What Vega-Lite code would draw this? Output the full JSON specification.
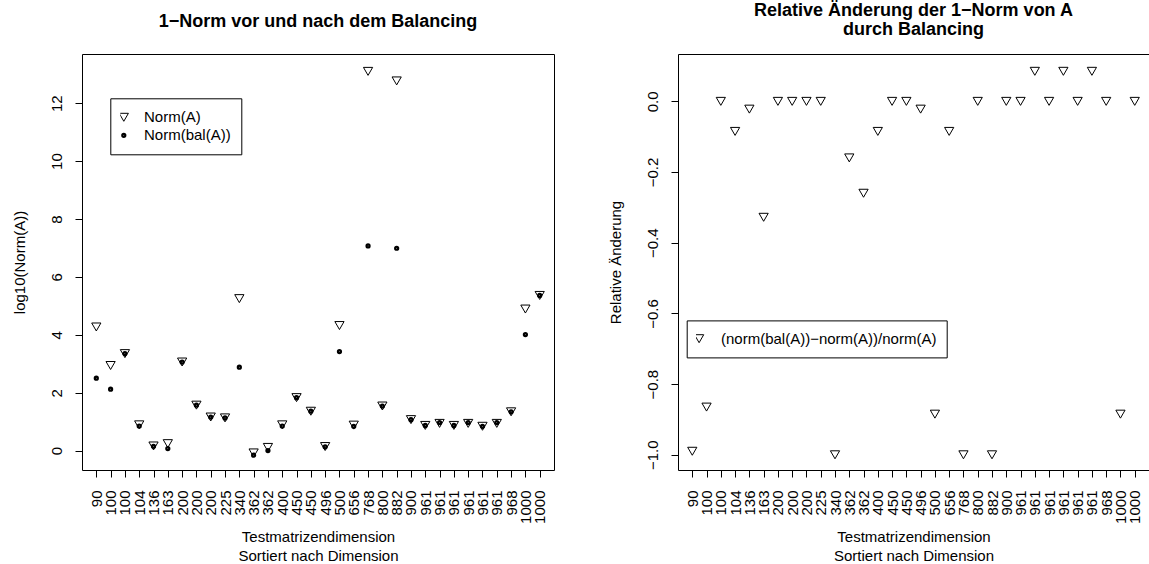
{
  "$schema": "https://vega.github.io/schema/vega-lite/v6.json",
  "background": "white",
  "padding": {"left": 11, "top": 2, "right": 0, "bottom": 0},
  "bounds": "flush",
  "spacing": 124,
  "resolve": {
    "scale": {"shape": "independent", "size": "independent", "strokeWidth": "independent"},
    "legend": {"shape": "independent", "size": "independent", "strokeWidth": "independent"}
  },
  "config": {
    "font": "Liberation Sans",
    "view": {"stroke": "black", "strokeWidth": 1},
    "axis": {
      "grid": false, "domain": false, "domainColor": "black", "domainWidth": 1,
      "tickColor": "black", "tickSize": 7, "tickWidth": 1,
      "labelColor": "black", "labelFontSize": 15, "labelFont": "Liberation Sans",
      "titleFont": "Liberation Sans", "titleFontSize": 15, "titleFontWeight": "normal", "titleColor": "black"
    }
  },
  "datasets": {
    "norms": [
      {"key": "01_90", "series": "Norm(A)", "v": 4.27},
      {"key": "02_100", "series": "Norm(A)", "v": 2.94},
      {"key": "03_100", "series": "Norm(A)", "v": 3.35},
      {"key": "04_104", "series": "Norm(A)", "v": 0.89},
      {"key": "05_136", "series": "Norm(A)", "v": 0.16},
      {"key": "06_163", "series": "Norm(A)", "v": 0.24},
      {"key": "07_200", "series": "Norm(A)", "v": 3.06},
      {"key": "08_200", "series": "Norm(A)", "v": 1.57},
      {"key": "09_200", "series": "Norm(A)", "v": 1.16},
      {"key": "10_225", "series": "Norm(A)", "v": 1.13},
      {"key": "11_340", "series": "Norm(A)", "v": 5.25},
      {"key": "12_362", "series": "Norm(A)", "v": -0.08},
      {"key": "13_362", "series": "Norm(A)", "v": 0.11},
      {"key": "14_400", "series": "Norm(A)", "v": 0.89},
      {"key": "15_450", "series": "Norm(A)", "v": 1.83},
      {"key": "16_450", "series": "Norm(A)", "v": 1.36},
      {"key": "17_496", "series": "Norm(A)", "v": 0.14},
      {"key": "18_500", "series": "Norm(A)", "v": 4.32},
      {"key": "19_656", "series": "Norm(A)", "v": 0.88},
      {"key": "20_768", "series": "Norm(A)", "v": 13.1},
      {"key": "21_800", "series": "Norm(A)", "v": 1.54},
      {"key": "22_882", "series": "Norm(A)", "v": 12.77},
      {"key": "23_900", "series": "Norm(A)", "v": 1.07},
      {"key": "24_961", "series": "Norm(A)", "v": 0.87},
      {"key": "25_961", "series": "Norm(A)", "v": 0.94},
      {"key": "26_961", "series": "Norm(A)", "v": 0.87},
      {"key": "27_961", "series": "Norm(A)", "v": 0.94},
      {"key": "28_961", "series": "Norm(A)", "v": 0.84},
      {"key": "29_961", "series": "Norm(A)", "v": 0.94},
      {"key": "30_968", "series": "Norm(A)", "v": 1.34},
      {"key": "31_1000", "series": "Norm(A)", "v": 4.89},
      {"key": "32_1000", "series": "Norm(A)", "v": 5.36},
      {"key": "01_90", "series": "Norm(bal(A))", "v": 2.5},
      {"key": "02_100", "series": "Norm(bal(A))", "v": 2.12},
      {"key": "03_100", "series": "Norm(bal(A))", "v": 3.35},
      {"key": "04_104", "series": "Norm(bal(A))", "v": 0.85},
      {"key": "05_136", "series": "Norm(bal(A))", "v": 0.15},
      {"key": "06_163", "series": "Norm(bal(A))", "v": 0.07},
      {"key": "07_200", "series": "Norm(bal(A))", "v": 3.06},
      {"key": "08_200", "series": "Norm(bal(A))", "v": 1.57},
      {"key": "09_200", "series": "Norm(bal(A))", "v": 1.16},
      {"key": "10_225", "series": "Norm(bal(A))", "v": 1.13},
      {"key": "11_340", "series": "Norm(bal(A))", "v": 2.88},
      {"key": "12_362", "series": "Norm(bal(A))", "v": -0.16},
      {"key": "13_362", "series": "Norm(bal(A))", "v": 0.0},
      {"key": "14_400", "series": "Norm(bal(A))", "v": 0.85},
      {"key": "15_450", "series": "Norm(bal(A))", "v": 1.83},
      {"key": "16_450", "series": "Norm(bal(A))", "v": 1.36},
      {"key": "17_496", "series": "Norm(bal(A))", "v": 0.13},
      {"key": "18_500", "series": "Norm(bal(A))", "v": 3.42},
      {"key": "19_656", "series": "Norm(bal(A))", "v": 0.84},
      {"key": "20_768", "series": "Norm(bal(A))", "v": 7.07},
      {"key": "21_800", "series": "Norm(bal(A))", "v": 1.54},
      {"key": "22_882", "series": "Norm(bal(A))", "v": 6.99},
      {"key": "23_900", "series": "Norm(bal(A))", "v": 1.07},
      {"key": "24_961", "series": "Norm(bal(A))", "v": 0.87},
      {"key": "25_961", "series": "Norm(bal(A))", "v": 0.97},
      {"key": "26_961", "series": "Norm(bal(A))", "v": 0.87},
      {"key": "27_961", "series": "Norm(bal(A))", "v": 0.97},
      {"key": "28_961", "series": "Norm(bal(A))", "v": 0.84},
      {"key": "29_961", "series": "Norm(bal(A))", "v": 0.97},
      {"key": "30_968", "series": "Norm(bal(A))", "v": 1.34},
      {"key": "31_1000", "series": "Norm(bal(A))", "v": 4.01},
      {"key": "32_1000", "series": "Norm(bal(A))", "v": 5.36}
    ],
    "rel": [
      {"key": "01_90", "series": "(norm(bal(A))−norm(A))/norm(A)", "r": -0.99},
      {"key": "02_100", "series": "(norm(bal(A))−norm(A))/norm(A)", "r": -0.865},
      {"key": "03_100", "series": "(norm(bal(A))−norm(A))/norm(A)", "r": 0.0},
      {"key": "04_104", "series": "(norm(bal(A))−norm(A))/norm(A)", "r": -0.085},
      {"key": "05_136", "series": "(norm(bal(A))−norm(A))/norm(A)", "r": -0.022},
      {"key": "06_163", "series": "(norm(bal(A))−norm(A))/norm(A)", "r": -0.328},
      {"key": "07_200", "series": "(norm(bal(A))−norm(A))/norm(A)", "r": 0.0},
      {"key": "08_200", "series": "(norm(bal(A))−norm(A))/norm(A)", "r": 0.0},
      {"key": "09_200", "series": "(norm(bal(A))−norm(A))/norm(A)", "r": 0.0},
      {"key": "10_225", "series": "(norm(bal(A))−norm(A))/norm(A)", "r": 0.0},
      {"key": "11_340", "series": "(norm(bal(A))−norm(A))/norm(A)", "r": -1.0},
      {"key": "12_362", "series": "(norm(bal(A))−norm(A))/norm(A)", "r": -0.16},
      {"key": "13_362", "series": "(norm(bal(A))−norm(A))/norm(A)", "r": -0.26},
      {"key": "14_400", "series": "(norm(bal(A))−norm(A))/norm(A)", "r": -0.085},
      {"key": "15_450", "series": "(norm(bal(A))−norm(A))/norm(A)", "r": 0.0},
      {"key": "16_450", "series": "(norm(bal(A))−norm(A))/norm(A)", "r": 0.0},
      {"key": "17_496", "series": "(norm(bal(A))−norm(A))/norm(A)", "r": -0.022},
      {"key": "18_500", "series": "(norm(bal(A))−norm(A))/norm(A)", "r": -0.885},
      {"key": "19_656", "series": "(norm(bal(A))−norm(A))/norm(A)", "r": -0.085},
      {"key": "20_768", "series": "(norm(bal(A))−norm(A))/norm(A)", "r": -1.0},
      {"key": "21_800", "series": "(norm(bal(A))−norm(A))/norm(A)", "r": 0.0},
      {"key": "22_882", "series": "(norm(bal(A))−norm(A))/norm(A)", "r": -1.0},
      {"key": "23_900", "series": "(norm(bal(A))−norm(A))/norm(A)", "r": 0.0},
      {"key": "24_961", "series": "(norm(bal(A))−norm(A))/norm(A)", "r": 0.0},
      {"key": "25_961", "series": "(norm(bal(A))−norm(A))/norm(A)", "r": 0.085},
      {"key": "26_961", "series": "(norm(bal(A))−norm(A))/norm(A)", "r": 0.0},
      {"key": "27_961", "series": "(norm(bal(A))−norm(A))/norm(A)", "r": 0.085},
      {"key": "28_961", "series": "(norm(bal(A))−norm(A))/norm(A)", "r": 0.0},
      {"key": "29_961", "series": "(norm(bal(A))−norm(A))/norm(A)", "r": 0.085},
      {"key": "30_968", "series": "(norm(bal(A))−norm(A))/norm(A)", "r": 0.0},
      {"key": "31_1000", "series": "(norm(bal(A))−norm(A))/norm(A)", "r": -0.885},
      {"key": "32_1000", "series": "(norm(bal(A))−norm(A))/norm(A)", "r": 0.0}
    ]
  },
  "hconcat": [
    {
      "width": 472,
      "height": 416,
      "title": {
        "text": "1−Norm vor und nach dem Balancing",
        "fontSize": 18, "fontWeight": "bold", "color": "black", "font": "Liberation Sans",
        "anchor": "middle", "frame": "group", "baseline": "alphabetic", "offset": 9
      },
      "data": {"name": "norms"},
      "mark": {"type": "point", "filled": false, "stroke": "black", "opacity": 1},
      "encoding": {
        "x": {
          "field": "key", "type": "ordinal",
          "scale": {"type": "point", "padding": 1.28},
          "axis": {
            "title": ["Testmatrizendimension", "Sortiert nach Dimension"],
            "titleLineHeight": 19.5, "titlePadding": 6,
            "labelAngle": -90, "labelAlign": "right", "labelBaseline": "middle",
            "labelPadding": 13, "labelExpr": "split(datum.label, '_')[1]"
          }
        },
        "y": {
          "field": "v", "type": "quantitative",
          "scale": {"domain": [-0.67, 13.7], "nice": false, "zero": false},
          "axis": {
            "title": "log10(Norm(A))", "values": [0, 2, 4, 6, 8, 10, 12],
            "labelAngle": -90, "labelAlign": "center", "labelBaseline": "bottom",
            "labelPadding": 11, "titlePadding": 22
          }
        },
        "shape": {
          "field": "series", "type": "nominal",
          "scale": {"domain": ["Norm(A)", "Norm(bal(A))"], "range": ["triangle-down", "circle"]},
          "legend": {
            "title": null, "orient": "none", "legendX": 28.3, "legendY": 44.3,
            "strokeColor": "black", "fillColor": "white", "padding": 10,
            "labelFontSize": 15, "labelColor": "black", "labelOffset": 12.7,
            "symbolOffset": -4, "clipHeight": 18, "rowPadding": 0,
            "symbolStrokeColor": "black"
          }
        },
        "size": {
          "field": "series", "type": "nominal",
          "scale": {"domain": ["Norm(A)", "Norm(bal(A))"], "range": [85, 5]},
          "legend": {
            "title": null, "orient": "none", "legendX": 28.3, "legendY": 44.3,
            "strokeColor": "black", "fillColor": "white", "padding": 10,
            "labelFontSize": 15, "labelColor": "black", "labelOffset": 12.7,
            "symbolOffset": -4, "clipHeight": 18, "rowPadding": 0,
            "symbolStrokeColor": "black"
          }
        },
        "strokeWidth": {
          "field": "series", "type": "nominal",
          "scale": {"domain": ["Norm(A)", "Norm(bal(A))"], "range": [1, 3]},
          "legend": {
            "title": null, "orient": "none", "legendX": 28.3, "legendY": 44.3,
            "strokeColor": "black", "fillColor": "white", "padding": 10,
            "labelFontSize": 15, "labelColor": "black", "labelOffset": 12.7,
            "symbolOffset": -4, "clipHeight": 18, "rowPadding": 0,
            "symbolStrokeColor": "black"
          }
        }
      }
    },
    {
      "width": 471,
      "height": 416,
      "title": {
        "text": ["Relative Änderung der 1−Norm von A", "durch Balancing"],
        "fontSize": 18, "fontWeight": "bold", "color": "black", "font": "Liberation Sans",
        "anchor": "middle", "frame": "group", "baseline": "alphabetic", "offset": 1, "lineHeight": 19
      },
      "data": {"name": "rel"},
      "view": {"stroke": null},
      "layer": [
        {
          "mark": {"type": "point", "filled": false, "stroke": "black", "strokeWidth": 1, "opacity": 1, "size": 85},
          "encoding": {
            "x": {
              "field": "key", "type": "ordinal",
              "scale": {"type": "point", "padding": 1.28},
              "axis": {
                "title": ["Testmatrizendimension", "Sortiert nach Dimension"],
                "titleLineHeight": 19.5, "titlePadding": 6, "domain": true,
                "labelAngle": -90, "labelAlign": "right", "labelBaseline": "middle",
                "labelPadding": 13, "labelExpr": "split(datum.label, '_')[1]"
              }
            },
            "y": {
              "field": "r", "type": "quantitative",
              "scale": {"domain": [-1.043, 0.134], "nice": false, "zero": false},
              "axis": {
                "title": "Relative Änderung", "values": [-1, -0.8, -0.6, -0.4, -0.2, 0], "format": ".1f",
                "labelAngle": -90, "labelAlign": "center", "labelBaseline": "bottom",
                "labelPadding": 11, "titlePadding": 22, "domain": true
              }
            },
            "shape": {
              "field": "series", "type": "nominal",
              "scale": {"domain": ["(norm(bal(A))−norm(A))/norm(A)"], "range": ["triangle-down"]},
              "legend": {
                "title": null, "orient": "none", "legendX": 8.7, "legendY": 266.4,
                "strokeColor": "black", "fillColor": "white", "padding": 9.3,
                "labelFontSize": 15, "labelColor": "black", "labelOffset": 14.4, "labelLimit": 400,
                "symbolOffset": -4.4, "clipHeight": 18, "symbolSize": 85,
                "symbolStrokeColor": "black", "symbolStrokeWidth": 1, "symbolFillColor": "transparent"
              }
            }
          }
        },
        {
          "mark": {"type": "point", "opacity": 0},
          "encoding": {
            "x": {
              "field": "key", "type": "ordinal",
              "axis": {"orient": "top", "labels": false, "ticks": false, "title": null, "domain": true}
            },
            "y": {"field": "r", "type": "quantitative"}
          }
        }
      ],
      "resolve": {"axis": {"x": "independent"}}
    }
  ]
}
